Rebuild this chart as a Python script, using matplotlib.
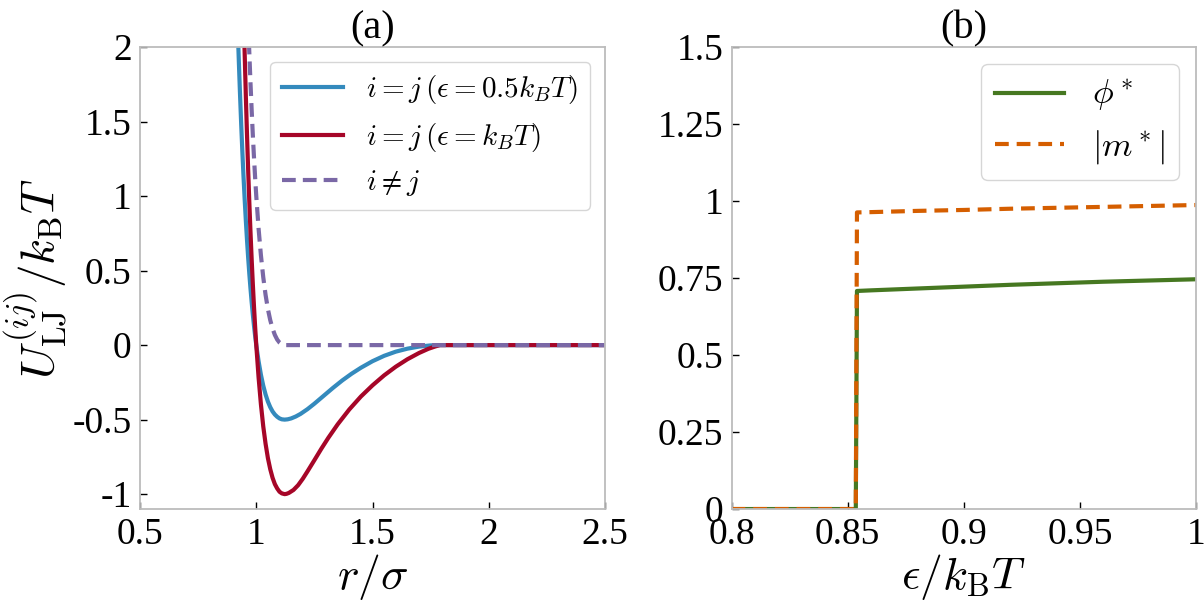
import matplotlib
matplotlib.use("Agg")
import matplotlib.pyplot as plt

plt.rcParams['font.family'] = ['Liberation Serif', 'DejaVu Serif']
plt.rcParams['mathtext.fontset'] = 'cm'

# (a) pair potentials
r_blue = [0.92, 0.925, 0.93, 0.935, 0.94, 0.945, 0.95, 0.955, 0.96, 0.965, 0.97, 0.975,
          0.98, 0.985, 0.99, 0.995, 1.00, 1.01, 1.02, 1.03, 1.04, 1.05, 1.06, 1.07,
          1.08, 1.09, 1.10, 1.11, 1.122, 1.135, 1.15, 1.17, 1.19, 1.22, 1.25, 1.29, 1.33,
          1.37, 1.41, 1.45, 1.50, 1.55, 1.60, 1.65, 1.70, 1.75, 1.79, 2.5]
u_blue = [2.141, 1.904, 1.687, 1.487, 1.303, 1.135, 0.981, 0.839, 0.709, 0.590, 0.481, 0.382,
          0.291, 0.208, 0.132, 0.063, 0.0, -0.109, -0.199, -0.272, -0.331, -0.379, -0.416, -0.445,
          -0.466, -0.481, -0.492, -0.498, -0.500, -0.498, -0.492, -0.479, -0.462, -0.430, -0.393, -0.340, -0.287,
          -0.237, -0.192, -0.152, -0.108, -0.072, -0.044, -0.024, -0.010, -0.002, 0.0, 0.0]

r_red = [0.94, 0.945, 0.95, 0.955, 0.96, 0.965, 0.97, 0.975, 0.98, 0.985, 0.99, 0.995,
         1.00, 1.01, 1.02, 1.03, 1.04, 1.05, 1.06, 1.07, 1.08, 1.09, 1.10, 1.11, 1.122,
         1.13, 1.14, 1.16, 1.18, 1.20, 1.22, 1.25, 1.28, 1.31, 1.35, 1.40, 1.45, 1.50,
         1.55, 1.60, 1.65, 1.70, 1.74, 1.77, 1.79, 2.5]
u_red = [2.606, 2.270, 1.962, 1.678, 1.418, 1.180, 0.962, 0.764, 0.582, 0.416, 0.264, 0.126,
         0.0, -0.218, -0.398, -0.545, -0.662, -0.758, -0.832, -0.890, -0.933, -0.962, -0.984, -0.995, -1.000,
         -0.998, -0.992, -0.972, -0.940, -0.897, -0.848, -0.772, -0.695, -0.622, -0.532, -0.432, -0.345, -0.270,
         -0.203, -0.145, -0.095, -0.053, -0.025, -0.009, 0.0, 0.0]

r_purple = [0.96, 0.965, 0.97, 0.975, 0.98, 0.985, 0.99, 0.995, 1.00, 1.01, 1.02, 1.03,
            1.04, 1.05, 1.06, 1.07, 1.08, 1.09, 1.10, 1.11, 1.122, 2.5]
u_purple = [2.418, 2.181, 1.963, 1.764, 1.582, 1.416, 1.264, 1.126, 1.0, 0.781, 0.602, 0.456,
            0.337, 0.242, 0.168, 0.111, 0.068, 0.037, 0.0166, 0.0048, 0.0, 0.0]

# (b) order parameters vs epsilon
eps_vals = [0.800, 0.8535, 0.854, 0.86, 0.87, 0.88, 0.90, 0.92, 0.94, 0.96, 0.98, 1.00]
phi_star = [0.0, 0.0, 0.708, 0.710, 0.713, 0.716, 0.722, 0.728, 0.733, 0.738, 0.742, 0.746]
m_star = [0.0, 0.0, 0.963, 0.964, 0.966, 0.968, 0.971, 0.975, 0.978, 0.981, 0.984, 0.987]

c_blue, c_red, c_purple = '#348ABD', '#A60628', '#7A68A6'
c_green, c_orange = '#467821', '#D55E00'

fig = plt.figure(figsize=(12.04, 6.06), dpi=100)
ax1 = fig.add_axes([0.1163, 0.160, 0.3862, 0.7624])
ax2 = fig.add_axes([0.6076, 0.160, 0.3858, 0.7624])

lw = 3.0
ax1.plot(r_blue, u_blue, color=c_blue, lw=lw, label=r'$i=j\,(\epsilon=0.5k_BT)$')
ax1.plot(r_red, u_red, color=c_red, lw=lw, label=r'$i=j\,(\epsilon=k_BT)$')
ax1.plot(r_purple, u_purple, color=c_purple, lw=lw, ls=(0, (3.3, 1.7)), label=r'$i\neq j$')
ax1.set_xlim(0.5, 2.5)
ax1.set_ylim(-1.1, 2)
ax1.set_xticks([0.5, 1, 1.5, 2, 2.5])
ax1.set_xticklabels(['0.5', '1', '1.5', '2', '2.5'])
ax1.set_yticks([-1, -0.5, 0, 0.5, 1, 1.5, 2])
ax1.set_yticklabels(['-1', '-0.5', '0', '0.5', '1', '1.5', '2'])
ax1.set_xlabel(r'$r/\sigma$', fontsize=33, labelpad=0)
ax1.set_ylabel(r'$U_{\rm LJ}^{(ij)}/k_{\rm B}T$', fontsize=34, labelpad=2)
ax1.set_title('(a)', fontsize=29, pad=5)
ax1.legend(loc='upper right', fontsize=21, handlelength=2.1, labelspacing=0.5)

ax2.plot(eps_vals, phi_star, color=c_green, lw=lw, label=r'$\phi^*$')
ax2.plot(eps_vals, m_star, color=c_orange, lw=lw, ls=(0, (3.3, 1.9)), label=r'$|m^*|$')
ax2.set_xlim(0.8, 1.0)
ax2.set_ylim(0, 1.5)
ax2.set_xticks([0.8, 0.85, 0.9, 0.95, 1.0])
ax2.set_xticklabels(['0.8', '0.85', '0.9', '0.95', '1'])
ax2.set_yticks([0, 0.25, 0.5, 0.75, 1, 1.25, 1.5])
ax2.set_yticklabels(['0', '0.25', '0.5', '0.75', '1', '1.25', '1.5'])
ax2.set_xlabel(r'$\epsilon/k_{\rm B}T$', fontsize=33, labelpad=0)
ax2.set_title('(b)', fontsize=29, pad=5)
ax2.legend(loc='upper right', fontsize=25, handlelength=2.0, labelspacing=0.4)

for ax in (ax1, ax2):
    for s in ax.spines.values():
        s.set_color('#bcbcbc')
        s.set_linewidth(1.3)
    ax.tick_params(direction='in', length=5, width=1, labelsize=27, pad=6,
                   top=False, right=False)

fig.savefig('out.png', dpi=100)
